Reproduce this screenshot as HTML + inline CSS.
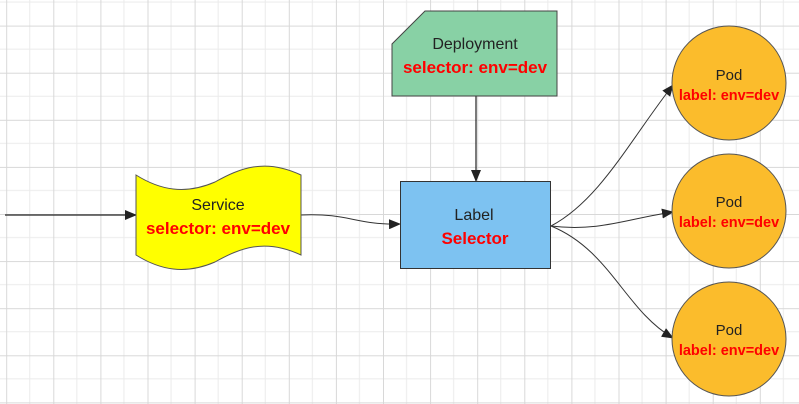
<!DOCTYPE html>
<html><head><meta charset="utf-8"><style>
html,body{margin:0;padding:0;background:#fff;}
svg{display:block;}
text{font-family:"Liberation Sans","DejaVu Sans",sans-serif;}
</style></head><body>
<svg width="799" height="404" viewBox="0 0 799 404" xmlns="http://www.w3.org/2000/svg">
<defs>
<pattern id="g" patternUnits="userSpaceOnUse" x="6.2" y="25.6" width="47.1" height="47.1">
<line x1="23.55" y1="0" x2="23.55" y2="47.1" stroke="#ebebeb" stroke-width="1"/>
<line x1="0" y1="23.55" x2="47.1" y2="23.55" stroke="#ebebeb" stroke-width="1"/>
<line x1="0.5" y1="0" x2="0.5" y2="47.1" stroke="#d8d8d8" stroke-width="1"/>
<line x1="0" y1="0.5" x2="47.1" y2="0.5" stroke="#d8d8d8" stroke-width="1"/>
</pattern>
<marker id="a" markerWidth="12" markerHeight="10" refX="11" refY="5" orient="auto" markerUnits="userSpaceOnUse">
<path d="M0,0 L12,5 L0,10 Z" fill="#222"/>
</marker>
</defs>
<rect width="799" height="404" fill="#fff"/>
<rect width="799" height="404" fill="url(#g)"/>

<line x1="5" y1="215" x2="136" y2="215" stroke="#222" stroke-width="1.2" marker-end="url(#a)"/>
<path d="M301,215 C350,213 355,225 400,224" fill="none" stroke="#333" stroke-width="1" marker-end="url(#a)"/>
<line x1="476" y1="96" x2="476" y2="181" stroke="#222" stroke-width="1.2" marker-end="url(#a)"/>
<path d="M551,226 C600,200 630,140 673,85" fill="none" stroke="#333" stroke-width="1" marker-end="url(#a)"/>
<path d="M551,226 C600,232 630,218 673,212" fill="none" stroke="#333" stroke-width="1" marker-end="url(#a)"/>
<path d="M551,226 C610,250 625,310 673,338" fill="none" stroke="#333" stroke-width="1" marker-end="url(#a)"/>

<path d="M136,175 C160,190 185,195 215,182 C240,168 265,158 301,175 L301,255 C265,238 240,248 215,262 C185,275 160,270 136,255 Z" fill="#ffff00" stroke="#555" stroke-width="1"/>
<text x="218" y="210" font-size="16" text-anchor="middle" fill="#222">Service</text>
<text x="218" y="234" font-size="17" font-weight="bold" text-anchor="middle" fill="#ff0000">selector: env=dev</text>

<path d="M425,11 L557,11 L557,96 L392,96 L392,44 Z" fill="#88d1a5" stroke="#444" stroke-width="1"/>
<text x="475" y="49" font-size="16" text-anchor="middle" fill="#222">Deployment</text>
<text x="475" y="73" font-size="17" font-weight="bold" text-anchor="middle" fill="#ff0000">selector: env=dev</text>

<rect x="400.5" y="181.5" width="150" height="87" fill="#7dc2f1" stroke="#333" stroke-width="1"/>
<text x="474" y="220" font-size="16" text-anchor="middle" fill="#222">Label</text>
<text x="475" y="244" font-size="17" font-weight="bold" text-anchor="middle" fill="#ff0000">Selector</text>

<g fill="#fbbc2c" stroke="#555" stroke-width="1">
<circle cx="729" cy="83" r="57"/>
<circle cx="729" cy="211" r="57"/>
<circle cx="729" cy="339" r="57"/>
</g>
<g text-anchor="middle">
<text x="729" y="80" font-size="15" fill="#222">Pod</text>
<text x="729" y="100" font-size="14.5" font-weight="bold" fill="#ff0000">label: env=dev</text>
<text x="729" y="207" font-size="15" fill="#222">Pod</text>
<text x="729" y="227" font-size="14.5" font-weight="bold" fill="#ff0000">label: env=dev</text>
<text x="729" y="335" font-size="15" fill="#222">Pod</text>
<text x="729" y="355" font-size="14.5" font-weight="bold" fill="#ff0000">label: env=dev</text>
</g>
</svg>
</body></html>
